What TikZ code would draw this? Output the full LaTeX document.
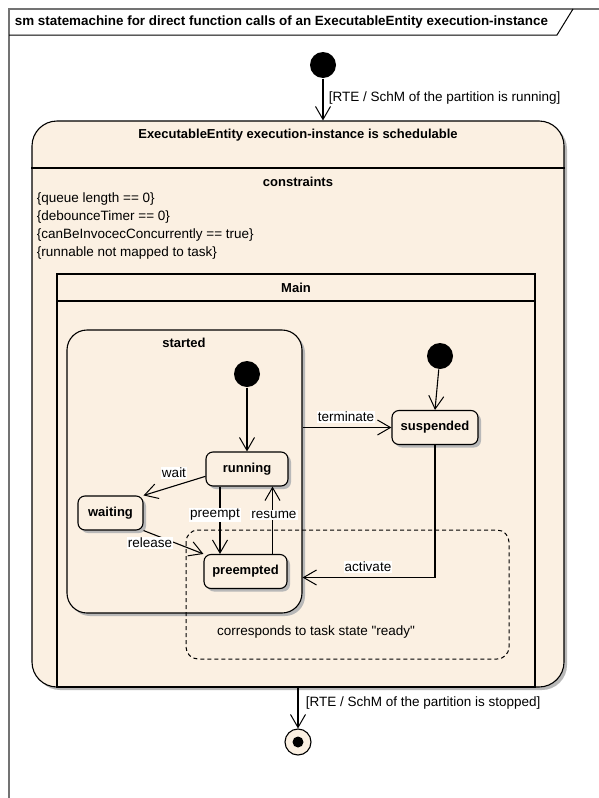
\documentclass[tikz,border=0pt]{standalone}
\usepackage{fontspec}
\setmainfont{Liberation Sans}[Ligatures=TeXOff]
\usetikzlibrary{arrows.meta,shadows}
\definecolor{cream}{RGB}{251,240,226}
\begin{document}
\begin{tikzpicture}[x=1pt,y=-1pt,line width=1.1pt,
  >={Straight Barb[length=13pt,width=15pt,line width=1pt]},
  font=\fontsize{13.5}{15}\selectfont,
  shade/.style={drop shadow={shadow xshift=3pt,shadow yshift=-3pt,fill=black!28,opacity=1}},
  boldtxt/.style={font=\fontsize{13}{15}\selectfont\bfseries},
  statebox/.style={draw,fill=cream,rounded corners=7pt,minimum height=34pt,inner sep=0pt,boldtxt,shade},
  initdot/.style={circle,fill=black,minimum size=26pt,inner sep=0pt},
  trlabel/.style={fill=white,inner sep=1pt}]
\useasboundingbox (0,0) rectangle (599,798);
% frame
\draw[line width=1.5pt,black!55] (9,798) -- (9,9) -- (599,9);
\draw[line width=1pt] (9,35) -- (557,35) -- (573,9);
\node[anchor=west,font=\fontsize{13.4}{15}\selectfont\bfseries] (title) at (11,22) {sm statemachine for direct function calls of an ExecutableEntity execution-instance};
% outer state
\node[draw,fill=cream,rounded corners=25pt,minimum width=532pt,minimum height=566pt,shade] (sched) at (298,404) {};
\node[boldtxt] (schedname) at (298,135) {ExecutableEntity execution-instance is schedulable};
\draw (sched.west |- 0,168) -- (sched.east |- 0,168);
\node[boldtxt] (cons) at (298,182) {constraints};
\node[anchor=west,align=left,font=\fontsize{13.5}{18}\selectfont] (conslist) at (33,226) {\{queue length == 0\}\\\{debounceTimer == 0\}\\\{canBeInvocecConcurrently == true\}\\\{runnable not mapped to task\}};
% region Main
\node[draw,minimum width=478pt,minimum height=413pt,inner sep=0pt] (main) at (296,480.5) {};
\draw (main.west |- 0,301) -- (main.east |- 0,301);
\node[boldtxt] (mainname) at (296,288) {Main};
% started
\node[draw,fill=cream,rounded corners=20pt,minimum width=235pt,minimum height=283pt,shade] (started) at (184.5,471.5) {};
\node[boldtxt] (startedname) at (184,343) {started};
\node[initdot] (init1) at (247,374) {};
\node[statebox,minimum width=82pt] (running) at (247,469) {running};
\node[statebox,minimum width=65pt] (waiting) at (110.5,513) {waiting};
\node[statebox,minimum width=83pt] (preempted) at (245.5,571.5) {preempted};
% suspended
\node[initdot] (init2) at (440,356) {};
\node[statebox,minimum width=86pt] (suspended) at (435,427.5) {suspended};
% ready
\draw[dash pattern=on 4pt off 3pt,line width=1pt,rounded corners=12pt] (186,530) rectangle (509,659);
\node (readynote) at (316,632) {corresponds to task state "ready"};
% initial / final
\node[initdot] (init0) at (323,65) {};
\node[draw,circle,fill=cream,minimum size=26pt,inner sep=0pt] (final) at (298,742) {};
\fill (final) circle (5.5);
% transitions
\draw[->] (init0) -- (init0 |- sched.north);
\node[anchor=west] (guardrun) at (325,98) {[RTE / SchM of the partition is running]};
\draw[->] (final |- sched.south) -- (final);
\node[anchor=west] (guardstop) at (302,703) {[RTE / SchM of the partition is stopped]};
\draw[->] (init1) -- (running);
\draw[->] (init2) -- (suspended.north);
\draw[->] (running.190) -- (waiting.north east);
\node[trlabel] (lwait) at (174,473) {wait};
\draw[->] (waiting.south east) -- (preempted.north west);
\node[trlabel] (lrelease) at (150,543) {release};
\draw[->] ([xshift=-27pt]running.south) -- ([xshift=-27pt]running.south |- preempted.north);
\node[trlabel] (lpreempt) at (215,515) {preempt};
\draw[->] ([xshift=27pt]preempted.north) -- ([xshift=27pt]preempted.north |- running.south);
\node[trlabel] (lresume) at (274,515) {resume};
\draw[->] (started.east |- suspended.west) -- (suspended.west);
\node[trlabel] (lterm) at (346,417) {terminate};
\draw[->] (suspended.south) |- ([yshift=-6pt]started.east |- preempted.east);
\node[trlabel] (lact) at (368,567) {activate};
\end{tikzpicture}
\end{document}
